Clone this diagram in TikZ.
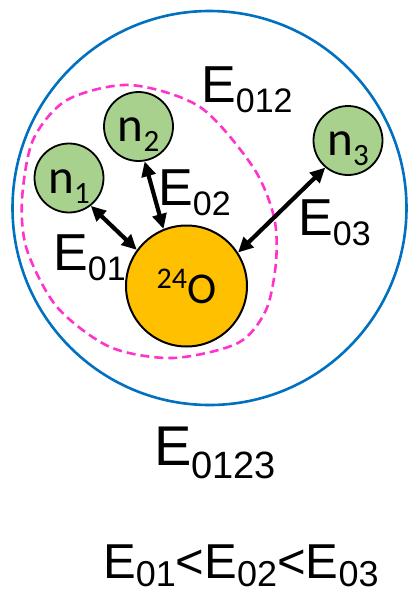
\documentclass[tikz,border=0pt]{standalone}
\usepackage{fontspec}
\setmainfont{Liberation Sans}
\newfontfamily\calfont{Carlito}
\usetikzlibrary{positioning, arrows.meta}

% E with lowered index: size, index size, index, drop
\newcommand{\Elab}[4]{{\fontsize{#1}{#1}\selectfont E\raisebox{-#4pt}{\fontsize{#2}{#2}\selectfont #3}}}
% neutron label, baseline below the centre
\newcommand{\nlab}[1]{\raisebox{-15pt}[0pt][0pt]{\calfont\fontsize{49}{49}\selectfont n\raisebox{-10pt}{\fontsize{31}{31}\selectfont #1}}}

\begin{document}
\begin{tikzpicture}[x=1pt, y=-1pt,
    neutron/.style={draw, circle, line width=1.8pt, fill=nGreen, minimum size=69pt, inner sep=0pt},
    core/.style={draw, circle, line width=2pt, fill=oOrange, minimum size=121pt, inner sep=0pt},
    elabel/.style={anchor=base west, inner sep=0pt},
    bond/.style={line width=4.2pt, arrows={Triangle[length=15pt,width=14pt]-Triangle[length=15pt,width=14pt]}}
]
\definecolor{nGreen}{HTML}{A9D18E}
\definecolor{oOrange}{HTML}{FFC000}
\definecolor{sysBlue}{HTML}{0070C0}
\definecolor{subPink}{HTML}{FF33CC}
\useasboundingbox (0,0) rectangle (408,594);

% outer and inner systems
\draw[sysBlue, line width=2.6pt] (209.5,208) circle (197pt);
\draw[subPink, line width=2.6pt, dash pattern=on 9pt off 5pt]
    plot[smooth cycle] coordinates {(130,85) (200,107) (253,167) (274,217) (276,262)
    (266,310) (238,343) (173,358) (110,347) (57,307) (27,250) (22,200) (33,140) (67,100)};

\node[core] (oxy) at (186.5,286) {\raisebox{-17pt}[0pt][0pt]{\calfont\fontsize{44}{44}\selectfont\raisebox{15pt}{\fontsize{30}{30}\selectfont 24}O}};
\node[neutron] (n1) at (69,178) {\nlab{1}};
\node[neutron] (n2) at (138.5,126.5) {\nlab{2}};
\node[neutron] (n3) at (348,140.5) {\nlab{3}};

\draw[bond] (n1.-52) -- (oxy.144);
\draw[bond] (n2.-80) -- (oxy.112);
\draw[bond] (n3.-130) -- (oxy.33);

\node[elabel] (e01) at (53,270) {\Elab{52}{34}{01}{10}};
\node[elabel] (e02) at (158,205) {\Elab{52}{34}{02}{10}};
\node[elabel] (e03) at (298,235) {\Elab{52}{34}{03}{10}};
\node[elabel] (e012) at (201,102) {\Elab{52}{34}{012}{10}};
\node[elabel] (e0123) at (154,465) {\Elab{56}{38}{0123}{13}};
\node[elabel] (order) at (103,578) {\Elab{49}{36}{01}{8}{\fontsize{49}{49}\selectfont<}\Elab{49}{36}{02}{8}{\fontsize{49}{49}\selectfont<}\Elab{49}{36}{03}{8}};
\end{tikzpicture}
\end{document}
